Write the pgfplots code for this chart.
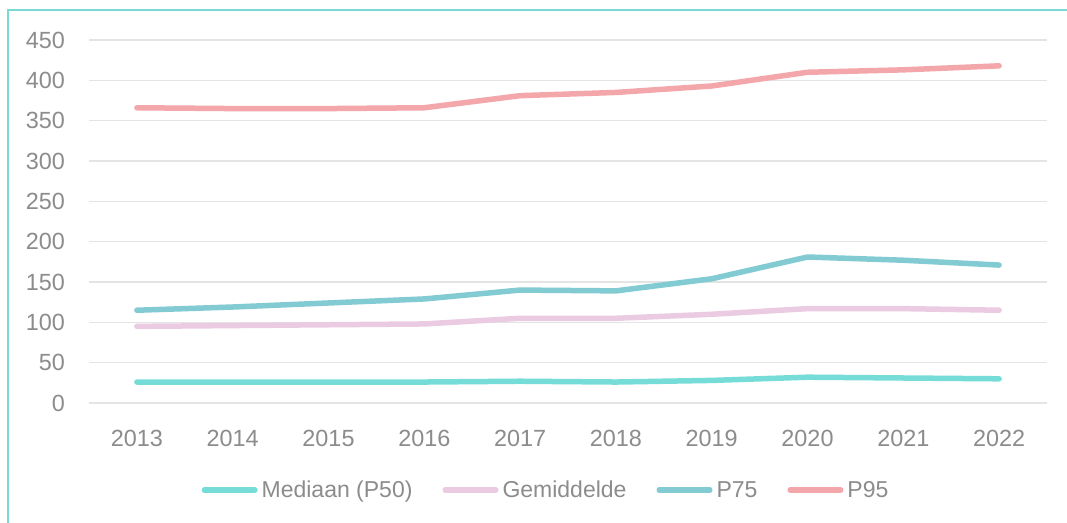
\documentclass[border=0pt]{standalone}
\usepackage{pgfplots}
\pgfplotsset{compat=1.18}
\usepackage{fontspec}
\setmainfont{Liberation Sans}
\definecolor{cMed}{HTML}{76DCD8}
\definecolor{cGem}{HTML}{EBCBE2}
\definecolor{cP75}{HTML}{82CBD2}
\definecolor{cP95}{HTML}{F4A7AB}
\definecolor{cTxt}{HTML}{8C8C8C}
\definecolor{cGrid}{HTML}{E4E4E4}
\definecolor{cBorder}{HTML}{78D9D6}
\begin{document}
\begin{tikzpicture}[x=1pt,y=1pt]
\path[use as bounding box] (0,0) rectangle (1067,-522);
\clip (0,0) rectangle (1067,-522);
\fill[white] (0,0) rectangle (1067,-522);
\draw[cBorder, line width=2pt] (8,-10) rectangle (1080,-540);
\begin{axis}[
  at={(89pt,-403pt)}, anchor=south west,
  scale only axis, width=958pt, height=363pt,
  xmin=-0.5, xmax=9.5, ymin=0, ymax=450,
  axis line style={draw=none},
  xtick={0,...,9},
  xticklabels={2013,2014,2015,2016,2017,2018,2019,2020,2021,2022},
  ytick={0,50,...,450},
  ymajorgrids, grid style={cGrid, line width=1.6pt},
  major tick length=0pt,
  tick label style={font=\fontsize{23.4}{26}\selectfont, text=cTxt, inner sep=0pt},
  /pgf/number format/assume math mode=true,
  yticklabel style={xshift=-24pt},
  xticklabel style={yshift=-26.5pt},
  legend style={at={(0.476,-0.2397)}, anchor=center, draw=none, fill=none,
    legend columns=4, font=\fontsize{23}{26}\selectfont, text=cTxt,
    nodes={inner sep=0pt},
    /tikz/every odd column/.append style={column sep=4pt},
    /tikz/every even column/.append style={column sep=30pt}},
  legend cell align=left,
  legend image code/.code={\draw[line width=5.5pt, line cap=round, #1] (2.75pt,0pt) -- (53.25pt,0pt);},
  every axis plot/.append style={line width=5.5pt, line cap=round, line join=round},
]
\addplot[cMed] coordinates {(0,26) (1,26) (2,26) (3,26) (4,27) (5,26) (6,28) (7,32) (8,31) (9,30)};
\addlegendentry{Mediaan (P50)}
\addplot[cGem] coordinates {(0,95) (1,96) (2,97) (3,98) (4,105) (5,105) (6,110) (7,117) (8,117) (9,115)};
\addlegendentry{Gemiddelde}
\addplot[cP75] coordinates {(0,115) (1,119) (2,124) (3,129) (4,140) (5,139) (6,154) (7,181) (8,177) (9,171)};
\addlegendentry{P75}
\addplot[cP95] coordinates {(0,366) (1,365) (2,365) (3,366) (4,381) (5,385) (6,393) (7,410) (8,413) (9,418)};
\addlegendentry{P95}
\end{axis}
\end{tikzpicture}
\end{document}
